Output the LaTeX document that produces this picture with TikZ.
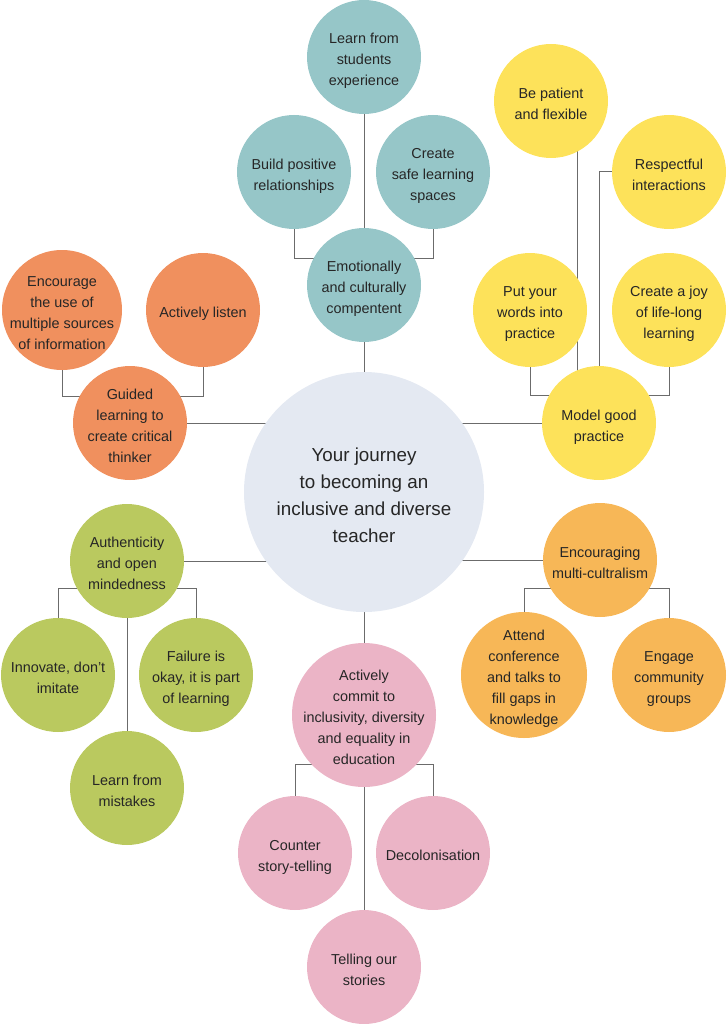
\documentclass[tikz,border=0pt]{standalone}
\usepackage{fontspec}
\setmainfont{Liberation Sans}
\usetikzlibrary{positioning}

\definecolor{tealc}{HTML}{96C6C8}
\definecolor{orangec}{HTML}{F0905E}
\definecolor{yellowc}{HTML}{FDE25A}
\definecolor{greenc}{HTML}{BAC95F}
\definecolor{amberc}{HTML}{F7B757}
\definecolor{pinkc}{HTML}{EBB4C6}
\definecolor{palec}{HTML}{E4E9F2}
\definecolor{linec}{HTML}{6B6B6B}
\definecolor{txtc}{HTML}{262626}

\pgfdeclarelayer{back}
\pgfsetlayers{back,main}

% stacked lines, a little below the middle of the bubble
\newcommand{\bubbletext}[1]{\begin{tabular}{@{}c@{}}\rule{0pt}{1.48\ht\strutbox}#1\end{tabular}}

\begin{document}
\begin{tikzpicture}[x=1pt,y=-1pt,on grid,
                    bubble/.style={circle,fill=#1,minimum size=114pt,inner sep=-12pt,
                      text=txtc,font=\fontsize{14.4}{21}\selectfont},
                    link/.style={draw=linec,line width=1pt},
                    elbow/.style={to path={|- (\tikztotarget)}},
                    hook/.style={to path={-| (\tikztotarget)}}]
  \useasboundingbox (0,0) rectangle (727,1024);

  \node[bubble=palec,minimum size=240pt,font=\fontsize{18.8}{27}\selectfont] (journey) at (364,492)
    {\bubbletext{Your journey\\to becoming an\\inclusive and diverse\\teacher}};

  % teal
  \node[bubble=tealc] (emo) at (364,285) {\bubbletext{Emotionally\\and culturally\\compentent}};
  \node[bubble=tealc] (learn) [above=228pt of emo] {\bubbletext{Learn from\\students\\experience}};
  \node[bubble=tealc] (build) [above left=113pt and 70pt of emo] {\bubbletext{Build positive\\relationships}};
  \node[bubble=tealc] (safe) [above right=113pt and 69pt of emo] {\bubbletext{Create\\safe learning\\spaces}};

  % orange
  \node[bubble=orangec] (guided) at (130,423) {\bubbletext{Guided\\learning to\\create critical\\thinker}};
  \node[bubble=orangec,minimum size=120pt] (sources) [above left=113pt and 68pt of guided]
    {\bubbletext{Encourage\\the use of\\multiple sources\\of information}};
  \node[bubble=orangec] (listen) [above right=113pt and 73pt of guided] {\bubbletext{Actively listen}};

  % yellow
  \node[bubble=yellowc] (model) at (599,423) {\bubbletext{Model good\\practice}};
  \node[bubble=yellowc] (words) [above left=113pt and 69pt of model] {\bubbletext{Put your\\words into\\practice}};
  \node[bubble=yellowc] (joy) [above right=113pt and 70pt of model] {\bubbletext{Create a joy\\of life-long\\learning}};
  \node[bubble=yellowc] (patient) at (551,101) {\bubbletext{Be patient\\and flexible}};
  \node[bubble=yellowc] (respect) at (669,172) {\bubbletext{Respectful\\interactions}};

  % green
  \node[bubble=greenc] (open) at (127,561) {\bubbletext{Authenticity\\and open\\mindedness}};
  \node[bubble=greenc] (innovate) [below left=114pt and 69pt of open] {\bubbletext{Innovate, don’t\\imitate}};
  \node[bubble=greenc] (failure) [below right=114pt and 69pt of open] {\bubbletext{Failure is\\okay, it is part\\of learning}};
  \node[bubble=greenc] (mistakes) [below=227pt of open] {\bubbletext{Learn from\\mistakes}};

  % amber
  \node[bubble=amberc] (multi) at (600,560) {\bubbletext{Encouraging\\multi-cultralism}};
  \node[bubble=amberc,minimum size=126pt] (attend) [below left=115pt and 76pt of multi]
    {\bubbletext{Attend\\conference\\and talks to\\fill gaps in\\knowledge}};
  \node[bubble=amberc] (groups) [below right=115pt and 69pt of multi] {\bubbletext{Engage\\community\\groups}};

  % pink
  \node[bubble=pinkc,minimum size=144pt] (commit) at (364,715)
    {\bubbletext{Actively\\commit to\\inclusivity, diversity\\and equality in\\education}};
  \node[bubble=pinkc] (counter) [below left=138pt and 69pt of commit] {\bubbletext{Counter\\story-telling}};
  \node[bubble=pinkc] (decol) [below right=138pt and 69pt of commit] {\bubbletext{Decolonisation}};
  \node[bubble=pinkc] (stories) [below=252pt of commit] {\bubbletext{Telling our\\stories}};

  % knees of the connectors
  \coordinate (emoknee) at ([yshift=27pt]emo.center);
  \coordinate (guidedknee) at ([yshift=27pt]guided.center);
  \coordinate (modelknee) at ([yshift=28pt]model.center);
  \coordinate (patientfoot) at ([xshift=26pt]patient.center);
  \coordinate (openknee) at ([yshift=-27pt]open.center);
  \coordinate (multiknee) at ([yshift=-28pt]multi.center);
  \coordinate (commitknee) at ([yshift=-49pt]commit.center);

  \begin{pgfonlayer}{back}
  \path[link]
    (learn) edge (emo)
    (emo) edge (journey)
    (build) edge[elbow] (emoknee)
    (safe) edge[elbow] (emoknee)
    (guided) edge (guided -| journey)
    (sources) edge[elbow] (guidedknee)
    (listen) edge[elbow] (guidedknee)
    (model) edge (model -| journey)
    (words) edge[elbow] (modelknee)
    (joy) edge[elbow] (modelknee)
    (patientfoot) edge (patientfoot |- model)
    (respect) edge[hook] (model)
    (open) edge (open -| journey)
    (innovate) edge[elbow] (openknee)
    (failure) edge[elbow] (openknee)
    (open) edge (mistakes)
    (multi) edge (multi -| journey)
    (attend) edge[elbow] (multiknee)
    (groups) edge[elbow] (multiknee)
    (journey) edge (commit)
    (counter) edge[elbow] (commitknee)
    (decol) edge[elbow] (commitknee)
    (commit) edge (stories)
    ;
  \end{pgfonlayer}
\end{tikzpicture}
\end{document}
